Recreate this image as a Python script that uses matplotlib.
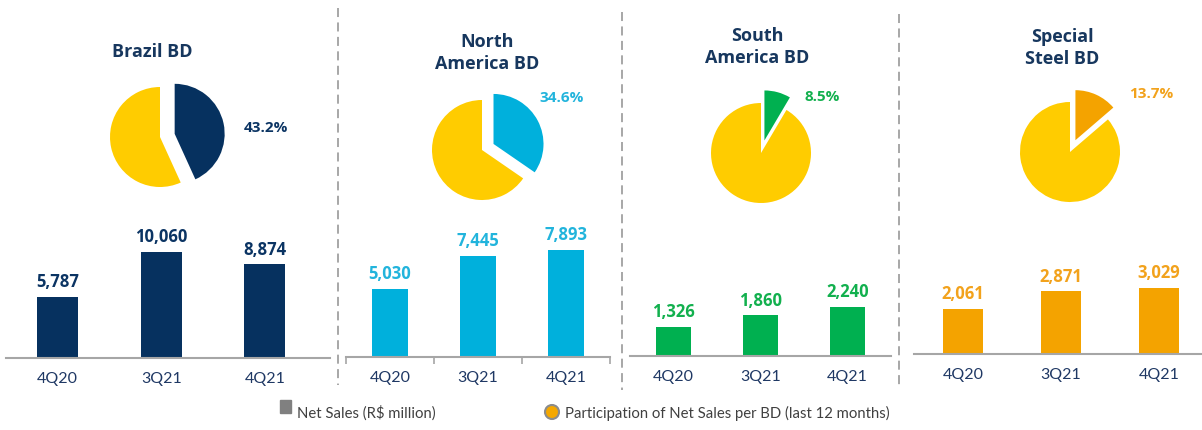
import matplotlib
matplotlib.use("Agg")
import matplotlib.pyplot as plt
from matplotlib.patches import Rectangle, Circle
from matplotlib.lines import Line2D

# --- data ---
quarters = ["4Q20", "3Q21", "4Q21"]
bd_names = ["Brazil BD", "North\nAmerica BD", "South\nAmerica BD", "Special\nSteel BD"]
brazil_sales = [5787, 10060, 8874]
north_america_sales = [5030, 7445, 7893]
south_america_sales = [1326, 1860, 2240]
special_steel_sales = [2061, 2871, 3029]
share_pct = [43.2, 34.6, 8.5, 13.7]  # share of net sales, last 12 months

sales = [brazil_sales, north_america_sales, south_america_sales, special_steel_sales]

# --- style ---
bar_colors = ["#06315f", "#00b0dc", "#00b050", "#f4a300"]
label_colors = ["#0b3463", "#22b4dc", "#12b04e", "#f2a21c"]
pie_rest = "#ffcc00"
title_color = "#17375e"
tick_color = "#1f3864"
axis_grey = "#a6a6a6"

W, H = 1202, 430
fig = plt.figure(figsize=(W / 100, H / 100), dpi=100)


def box(x0, y0, x1, y1):
    # pixel box (top-left origin) -> figure fraction rect
    return [x0 / W, 1 - y1 / H, (x1 - x0) / W, (y1 - y0) / H]


# bar panels: left px, right px, baseline px, category spacing px, px per unit
bar_layout = [
    (6, 330, 358, 103.5, 0.01054),
    (346, 610, 357, 88.0, 0.01356),
    (630, 891, 356, 87.0, 0.0219),
    (914, 1202, 354, 98.0, 0.0219),
]
bar_top = 200

for i, (x0, x1, base, step, ppu) in enumerate(bar_layout):
    ax = fig.add_axes(box(x0, bar_top, x1, base))
    pos = range(len(quarters))
    bars = ax.bar(pos, sales[i], width=0.4, color=bar_colors[i])
    ax.set_xlim(-0.5, (x1 - x0) / step - 0.5)
    ax.set_ylim(0, (base - bar_top) / ppu)
    for b, v in zip(bars, sales[i]):
        ax.annotate(f"{v:,}", (b.get_x() + b.get_width() / 2, b.get_height()),
                    xytext=(0, 4), textcoords="offset points", ha="center", va="bottom",
                    fontsize=12, fontweight="bold", color=label_colors[i],
                    family="Open Sans", annotation_clip=False)
    ax.set_xticks(list(pos))
    ax.set_xticklabels(quarters, fontsize=11.5, color=tick_color, family="Lato")
    ax.tick_params(axis="x", length=0, pad=10)
    ax.set_yticks([])
    for s in ["top", "right", "left"]:
        ax.spines[s].set_visible(False)
    ax.spines["bottom"].set_color(axis_grey)
    ax.spines["bottom"].set_linewidth(1.5)
    ax.patch.set_alpha(0)
    if i == 1:
        ax.set_xticks([-0.5, 0.5, 1.5, 2.5], minor=True)
        ax.tick_params(axis="x", which="minor", length=5, color=axis_grey, width=1.2)

# pies: centre px, radius 50 px
pie_centres = [(160, 137), (482, 150), (761, 153), (1070, 152)]
for i, (cx, cy) in enumerate(pie_centres):
    ax = fig.add_axes(box(cx - 80, cy - 80, cx + 80, cy + 80))
    ax.pie([share_pct[i], 100 - share_pct[i]], colors=[bar_colors[i], pie_rest],
           startangle=90, counterclock=False, explode=[0.3 if i == 0 else 0.26, 0],
           wedgeprops=dict(linewidth=0))
    ax.set_xlim(-1.6, 1.6)
    ax.set_ylim(-1.6, 1.6)
    ax.set_aspect("equal")
    ax.axis("off")

# overlay in pixel coordinates for titles, labels, separators, legend
ov = fig.add_axes([0, 0, 1, 1])
ov.set_xlim(0, W)
ov.set_ylim(H, 0)
ov.axis("off")

title_pos = [(152, 52), (487, 53), (757, 47), (1062, 48)]
for (tx, ty), name in zip(title_pos, bd_names):
    ov.text(tx, ty, name, ha="center", va="center", fontsize=13, fontweight="bold",
            color=title_color, family="Open Sans", linespacing=1.3)

pct_pos = [(266, 128), (562, 98), (822, 97), (1151, 94)]
for (px, py), p, c in zip(pct_pos, share_pct, label_colors):
    ov.text(px, py, f"{p}%", ha="center", va="center", fontsize=11,
            fontweight="bold", color=c, family="Open Sans")

for sx, y0, y1 in [(338, 8, 385), (622, 12, 390), (899, 14, 385)]:
    ov.add_line(Line2D([sx, sx], [y0, y1], color="#a0a0a0", lw=1.3,
                       linestyle=(0, (5, 3))))

ov.add_patch(Rectangle((280, 400), 11, 13, color="#808080"))
ov.text(297, 413, "Net Sales (R$ million)", va="center", fontsize=10.7,
        color="#404040", family="Lato")
ov.add_patch(Circle((552, 412), 7, facecolor="#f5a800", edgecolor="#8c8c8c", lw=1.5))
ov.text(565, 413, "Participation of Net Sales per BD (last 12 months)", va="center",
        fontsize=10.7, color="#404040", family="Lato")

fig.savefig("out.png", dpi=100)
